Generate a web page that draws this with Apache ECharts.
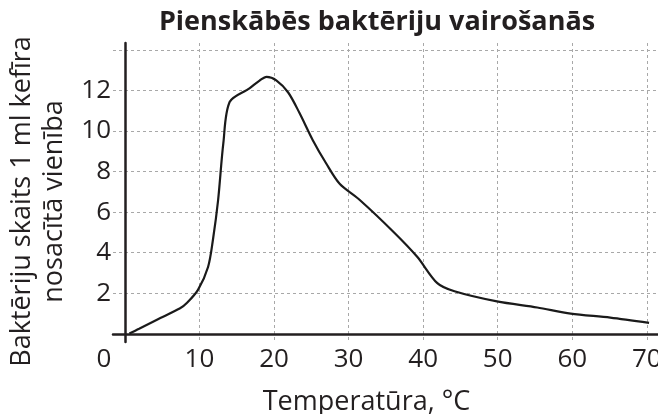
<!DOCTYPE html>
<html>
<head>
<meta charset="utf-8">
<script src="https://cdn.jsdelivr.net/npm/echarts@6/dist/echarts.min.js"></script>
<style>
html,body{margin:0;padding:0;background:#fff;}
#main{width:658px;height:414px;}
</style>
</head>
<body>
<div id="main"></div>
<script>
// temperatūra, °C
var temp = [0.6, 1.9, 4.3, 7.4, 8.3, 9.8, 11.15, 11.8, 12.5, 13.2, 14.06, 16.7, 18.1, 19.0, 20.3, 21.9, 23.4, 25.2, 27.0, 28.8, 31.5, 36.1, 39.2, 41.9, 44.2, 49.9, 55.3, 59.8, 65.1, 70.3];
// baktēriju skaits
var skaits = [0.02, 0.25, 0.7, 1.26, 1.52, 2.17, 3.3, 4.63, 6.6, 9.4, 11.44, 12.1, 12.5, 12.67, 12.5, 11.9, 10.9, 9.55, 8.4, 7.4, 6.6, 5.0, 3.8, 2.5, 2.1, 1.6, 1.3, 1.0, 0.8, 0.54];
var xTicks = [0, 10, 20, 30, 40, 50, 60, 70];
var yTicks = [2, 4, 6, 8, 10, 12];
var yGrid = [2, 4, 6, 8, 10, 12, 14];

var punkti = [];
for (var i = 0; i < temp.length; i++) {
	punkti.push([temp[i], skaits[i]]);
}

var chart = echarts.init(document.getElementById('main'));
var fontF = 'Open Sans';
var txt = '#231f20';

chart.setOption({
	animation: false,
	title: {
		text: 'Pienskābēs baktēriju vairošanās',
		left: 372,
		textAlign: 'center',
		top: 4,
		textStyle: {
			fontFamily: fontF,
			fontSize: 27,
			fontWeight: 'bold',
			color: txt
		}
	},
	grid: {
		left: 113,
		right: 0,
		top: 43,
		bottom: 72,
		containLabel: false,
		outerBoundsMode: 'none'
	},
	xAxis: {
		type: 'value',
		min: -1.6,
		max: 71.5,
		name: 'Temperatūra, °C',
		nameLocation: 'middle',
		nameGap: 47,
		nameTextStyle: {
			fontFamily: fontF,
			fontSize: 27,
			color: txt,
			padding: [0, 38, 0, 0]
		},
		axisLine: {
			onZero: true,
			lineStyle: { color: txt, width: 2.5 }
		},
		axisTick: { show: false, customValues: [10, 20, 30, 40, 50, 60, 70] },
		axisLabel: {
			customValues: xTicks,
			margin: 5,
			fontFamily: fontF,
			fontSize: 26,
			color: txt,
			formatter: function (v) {
				if (v === 0) return '{o|0}';
				return v;
			},
			rich: {
				o: { fontFamily: fontF, fontSize: 26, color: txt, padding: [0, 42, 0, 0] }
			}
		},
		splitLine: {
			show: true,
			lineStyle: { color: '#a8a8a8', type: [3, 3], width: 1 }
		}
	},
	yAxis: {
		type: 'value',
		min: -0.4,
		max: 14.34,
		name: 'Baktēriju skaits 1 ml kefīra\nnosacītā vienība',
		nameLocation: 'middle',
		nameRotate: 90,
		nameGap: 41,
		nameTextStyle: {
			fontFamily: fontF,
			fontSize: 27,
			lineHeight: 32,
			color: txt,
			align: 'center',
			padding: [0, 18, 0, 0]
		},
		axisLine: {
			onZero: true,
			lineStyle: { color: txt, width: 2.5 }
		},
		axisTick: { show: false, customValues: yGrid },
		axisLabel: {
			customValues: yTicks,
			margin: 2,
			fontFamily: fontF,
			fontSize: 26,
			color: txt
		},
		splitLine: {
			show: true,
			lineStyle: { color: '#a8a8a8', type: [3, 3], width: 1 }
		}
	},
	series: [{
		type: 'line',
		data: punkti,
		smooth: 0.3,
		showSymbol: false,
		lineStyle: { color: '#1a1a1a', width: 2.2 }
	}]
});
</script>
</body>
</html>
